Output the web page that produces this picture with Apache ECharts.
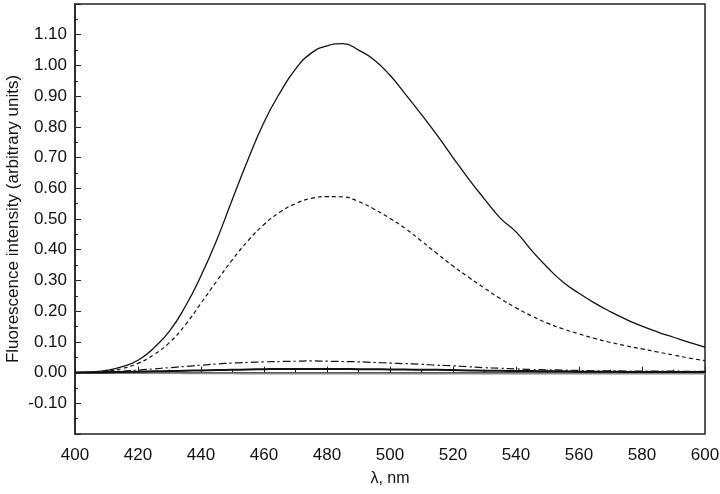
<!DOCTYPE html>
<html>
<head>
<meta charset="utf-8">
<script src="https://cdn.jsdelivr.net/npm/echarts@6/dist/echarts.min.js"></script>
<style>
  html, body { margin: 0; padding: 0; background: #fff; }
  #main { width: 720px; height: 494px; }
</style>
</head>
<body>
<div id="main"></div>
<script>
var chartDom = document.getElementById('main');
var myChart = echarts.init(chartDom, null, { renderer: 'canvas' });

// 波长 400-600 nm，每 5 nm 一个点
var wavelengths = [400, 405, 410, 415, 420, 425, 430, 435, 440, 445,
    450, 455, 460, 465, 470, 475, 480, 485, 490, 495,
    500, 505, 510, 515, 520, 525, 530, 535, 540, 545,
    550, 555, 560, 565, 570, 575, 580, 585, 590, 595, 600];

// 实线（最强）
var solidMain = [0.000, 0.002, 0.007, 0.019, 0.040, 0.080, 0.135, 0.215, 0.315, 0.432,
    0.565, 0.695, 0.815, 0.910, 0.988, 1.040, 1.064, 1.071, 1.050, 1.018,
    0.968, 0.905, 0.840, 0.772, 0.700, 0.630, 0.565, 0.503, 0.458, 0.397,
    0.342, 0.294, 0.258, 0.226, 0.198, 0.173, 0.151, 0.132, 0.115, 0.098, 0.083];

// 虚线
var dashed = [0.000, 0.001, 0.004, 0.013, 0.030, 0.058, 0.098, 0.155, 0.226, 0.298,
    0.368, 0.430, 0.482, 0.522, 0.550, 0.567, 0.573, 0.572, 0.557, 0.532,
    0.502, 0.468, 0.428, 0.387, 0.347, 0.310, 0.275, 0.241, 0.211, 0.184,
    0.161, 0.142, 0.126, 0.111, 0.098, 0.087, 0.077, 0.067, 0.057, 0.047, 0.039];

// 点划线
var dashDot = [0.000, 0.001, 0.003, 0.005, 0.008, 0.012, 0.016, 0.020, 0.024, 0.028,
    0.031, 0.033, 0.035, 0.036, 0.037, 0.038, 0.037, 0.036, 0.035, 0.033,
    0.031, 0.029, 0.027, 0.024, 0.022, 0.019, 0.016, 0.014, 0.012, 0.010,
    0.009, 0.008, 0.007, 0.006, 0.006, 0.005, 0.005, 0.005, 0.005, 0.004, 0.004];

// 接近零的粗实线
var lowSolid = [0.000, 0.000, 0.001, 0.002, 0.003, 0.004, 0.005, 0.006, 0.007, 0.008,
    0.009, 0.010, 0.011, 0.012, 0.012, 0.012, 0.012, 0.012, 0.011, 0.011,
    0.010, 0.010, 0.009, 0.009, 0.008, 0.007, 0.006, 0.006, 0.005, 0.005,
    0.004, 0.004, 0.003, 0.003, 0.003, 0.002, 0.002, 0.002, 0.002, 0.002, 0.002];

// 基线附近的灰线
var baseGray = [0.000, 0.000, 0.000, -0.001, -0.001, -0.002, -0.002, -0.003, -0.003, -0.003,
    -0.003, -0.004, -0.004, -0.004, -0.004, -0.004, -0.004, -0.004, -0.004, -0.004,
    -0.004, -0.004, -0.004, -0.004, -0.004, -0.004, -0.004, -0.004, -0.004, -0.004,
    -0.004, -0.004, -0.004, -0.004, -0.004, -0.004, -0.004, -0.004, -0.004, -0.004, -0.004];

var yTickMin = -0.2;
var yTickMax = 1.2;

function pairs(ys) {
    return wavelengths.map(function (x, i) { return [x, ys[i]]; });
}

var fontFamily = 'Liberation Sans, Arial, sans-serif';
var axisColor = '#222';

function lineSeries(ys, color, width, type) {
    return {
        type: 'line',
        data: pairs(ys),
        showSymbol: false,
        smooth: 0.5,
        silent: true,
        lineStyle: { color: color, width: width, type: type }
    };
}

option = {
    animation: false,
    backgroundColor: '#fff',
    grid: {
        left: 75,
        right: 15,
        top: 4,
        bottom: 60,
        outerBoundsMode: 'none',
        containLabel: false,
        show: true,
        borderColor: axisColor,
        borderWidth: 1.5
    },
    xAxis: {
        type: 'value',
        min: 400,
        max: 600,
        interval: 20,
        name: 'λ, nm',
        nameLocation: 'middle',
        nameGap: 37,
        nameMoveOverlap: false,
        nameTextStyle: { color: '#111', fontSize: 16, fontFamily: fontFamily },
        axisLine: { lineStyle: { color: axisColor, width: 1.5 } },
        axisTick: { inside: true, length: 6, lineStyle: { color: axisColor } },
        minorTick: { show: true, splitNumber: 2, length: 3, lineStyle: { color: axisColor } },
        splitLine: { show: false },
        axisLabel: { color: '#111', fontSize: 17, fontFamily: fontFamily, margin: 13 }
    },
    yAxis: {
        type: 'value',
        min: yTickMin,
        max: yTickMax,
        interval: 0.1,
        name: 'Fluorescence intensity (arbitrary units)',
        nameLocation: 'middle',
        nameGap: 53,
        nameMoveOverlap: false,
        nameTextStyle: { color: '#111', fontSize: 17, fontFamily: fontFamily },
        axisLine: { lineStyle: { color: axisColor, width: 1.5 } },
        axisTick: { inside: true, length: 6, lineStyle: { color: axisColor } },
        minorTick: { show: true, splitNumber: 2, length: 3, lineStyle: { color: axisColor } },
        splitLine: { show: false },
        axisLabel: {
            color: '#111',
            fontSize: 17,
            fontFamily: fontFamily,
            margin: 8,
            formatter: function (v) {
                // 两端不显示
                if (Math.abs(v - yTickMin) < 1e-6 || Math.abs(v - yTickMax) < 1e-6) return '';
                return v.toFixed(2);
            }
        }
    },
    series: [
        lineSeries(baseGray, '#888', 1.5, 'solid'),
        lineSeries(lowSolid, '#111', 2, 'solid'),
        lineSeries(dashDot, '#111', 1.2, [8, 3, 2, 3]),
        lineSeries(dashed, '#111', 1.2, [4, 3]),
        lineSeries(solidMain, '#111', 1.3, 'solid')
    ]
};

myChart.setOption(option);
</script>
</body>
</html>
